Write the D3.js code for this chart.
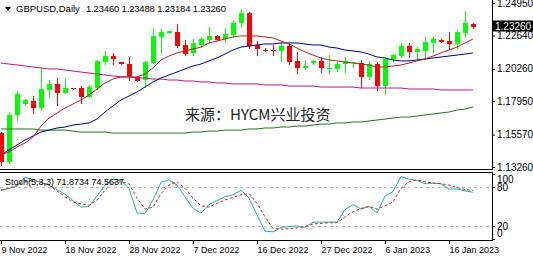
<!DOCTYPE html>
<meta charset="utf-8">
<style>
body { margin: 0; background: #fff; }
svg { display: block; font-family: "Liberation Sans", Arial, sans-serif; }
.axis path.domain { display: none; }
.axis line { stroke: #000; }
.axis text { fill: #000; }
</style>
<body>
<svg width="533" height="256"></svg>
<script src="https://d3js.org/d3.v7.min.js"></script>
<script>

// one bar every 8px (broker has short sunday bars), 9 Nov 2022 .. 19 Jan 2023
var tickBars = [0, 8, 16, 24, 32, 40, 48, 56];
var tickLabels = ["9 Nov 2022", "18 Nov 2022", "28 Nov 2022", "7 Dec 2022",
                  "16 Dec 2022", "27 Dec 2022", "6 Jan 2023", "16 Jan 2023"];

var open  = [1.1568,1.1362,1.1697,1.1775,1.1796,1.1747,1.1875,1.1918,1.1853,1.1889,
             1.1889,1.1825,1.1889,1.2074,1.2117,1.2074,1.2060,1.1968,1.1946,1.2067,
             1.2253,1.2281,1.2288,1.2196,1.2139,1.2196,1.2231,1.2260,1.2238,1.2267,
             1.2352,1.2424,1.2196,1.2163,1.2163,1.2153,1.2188,1.2082,1.2032,1.2067,
             1.2082,1.2025,1.2025,1.2060,1.2064,1.2067,1.1968,1.2060,1.1903,1.2096,
             1.2117,1.2188,1.2146,1.2153,1.2210,1.2231,1.2224,1.2203,1.2281,1.2346];
var high  = [1.1575,1.1718,1.1868,1.1811,1.1832,1.2032,1.1946,1.1960,1.1953,1.1892,
             1.1903,1.1911,1.2089,1.2153,1.2139,1.2074,1.2110,1.1975,1.2082,1.2317,
             1.2310,1.2295,1.2345,1.2231,1.2238,1.2253,1.2324,1.2267,1.2317,1.2374,
             1.2452,1.2431,1.2224,1.2174,1.2196,1.2217,1.2210,1.2146,1.2089,1.2089,
             1.2110,1.2124,1.2074,1.2110,1.2074,1.2089,1.2082,1.2074,1.2110,1.2131,
             1.2210,1.2210,1.2181,1.2253,1.2253,1.2238,1.2288,1.2303,1.2438,1.2349];
var low   = [1.1340,1.1355,1.1661,1.1768,1.1711,1.1733,1.1825,1.1768,1.1853,1.1882,
             1.1782,1.1825,1.1882,1.2060,1.2060,1.2060,1.1946,1.1939,1.1896,1.2067,
             1.2139,1.2281,1.2181,1.2124,1.2124,1.2181,1.2217,1.2231,1.2217,1.2253,
             1.2324,1.2174,1.2124,1.2153,1.2124,1.2082,1.2060,1.1996,1.2025,1.2060,
             1.2003,1.1996,1.2010,1.2003,1.2039,1.1896,1.1953,1.1875,1.1846,1.2082,
             1.2110,1.2110,1.2096,1.2096,1.2146,1.2217,1.2167,1.2174,1.2253,1.2318];
var close = [1.1362,1.1697,1.1846,1.1804,1.1747,1.1882,1.1918,1.1853,1.1889,1.1884,
             1.1825,1.1896,1.2082,1.2117,1.2096,1.2060,1.1968,1.1939,1.2074,1.2260,
             1.2288,1.2295,1.2188,1.2131,1.2210,1.2238,1.2260,1.2231,1.2274,1.2352,
             1.2424,1.2188,1.2167,1.2160,1.2156,1.2188,1.2074,1.2032,1.2046,1.2082,
             1.2032,1.2032,1.2060,1.2082,1.2071,1.1968,1.2060,1.1903,1.2096,1.2124,
             1.2188,1.2146,1.2167,1.2217,1.2238,1.2217,1.2203,1.2288,1.2352,1.2326];

// moving averages
var maRed   = [1.1412,1.1433,1.1469,1.1497,1.1540,1.1618,1.1675,1.1711,1.1747,1.1775,
               1.1804,1.1839,1.1882,1.1925,1.1953,1.1968,1.1968,1.1968,1.1989,1.2032,
               1.2089,1.2117,1.2139,1.2153,1.2167,1.2181,1.2210,1.2224,1.2238,1.2253,
               1.2260,1.2260,1.2260,1.2253,1.2246,1.2224,1.2203,1.2174,1.2146,1.2124,
               1.2103,1.2089,1.2082,1.2074,1.2067,1.2060,1.2053,1.2039,1.2039,1.2046,
               1.2053,1.2067,1.2082,1.2096,1.2117,1.2139,1.2160,1.2181,1.2210,1.2238];
var maBlue  = [1.1412,1.1447,1.1483,1.1518,1.1547,1.1575,1.1589,1.1604,1.1611,1.1625,
               1.1632,1.1640,1.1668,1.1718,1.1761,1.1804,1.1832,1.1861,1.1896,1.1932,
               1.1960,1.1982,1.2003,1.2025,1.2046,1.2060,1.2082,1.2103,1.2131,1.2160,
               1.2181,1.2188,1.2196,1.2203,1.2203,1.2210,1.2210,1.2210,1.2203,1.2196,
               1.2196,1.2181,1.2174,1.2160,1.2153,1.2146,1.2131,1.2110,1.2103,1.2089,
               1.2082,1.2082,1.2089,1.2096,1.2103,1.2110,1.2117,1.2124,1.2131,1.2139];
var maPink  = [1.2067,1.2060,1.2053,1.2046,1.2039,1.2032,1.2025,1.2025,1.2017,1.2010,
               1.2003,1.1996,1.1989,1.1982,1.1975,1.1968,1.1968,1.1960,1.1960,1.1953,
               1.1953,1.1946,1.1946,1.1939,1.1939,1.1932,1.1932,1.1925,1.1925,1.1918,
               1.1918,1.1918,1.1918,1.1911,1.1911,1.1911,1.1903,1.1903,1.1903,1.1903,
               1.1896,1.1896,1.1896,1.1896,1.1896,1.1889,1.1889,1.1889,1.1889,1.1889,
               1.1889,1.1882,1.1882,1.1882,1.1882,1.1875,1.1875,1.1875,1.1875,1.1875];
var maGreen = [1.1597,1.1597,1.1597,1.1597,1.1597,1.1589,1.1589,1.1589,1.1589,1.1582,
               1.1575,1.1575,1.1575,1.1575,1.1568,1.1568,1.1568,1.1568,1.1568,1.1568,
               1.1568,1.1568,1.1568,1.1568,1.1575,1.1575,1.1582,1.1582,1.1589,1.1589,
               1.1589,1.1597,1.1597,1.1604,1.1604,1.1611,1.1611,1.1618,1.1618,1.1625,
               1.1632,1.1632,1.1640,1.1640,1.1647,1.1647,1.1654,1.1661,1.1668,1.1675,
               1.1682,1.1682,1.1690,1.1697,1.1704,1.1711,1.1718,1.1732,1.1739,1.1754];

// stochastic (5,3,3)
var stochMain   = [75,78,81,95,91,87,83,76,69,59,49,50,66,83,92,90,78,40,39,60,
                   87,91,83,65,47,40,53,59,65,68,75,63,37,12,11,18,19,20,18,26,
                   26,26,26,45,53,46,50,40,66,73,96,92,90,85,86,85,77,77,74,71.87];
var stochSignal = [75,78,83,88,91,87,83,74,65,57,54,52,60,75,87,88,85,63,46,49,
                   70,83,88,78,63,51,49,55,60,64,68,70,55,34,16,15,16,17,19,23,
                   24,25,25,34,42,47,50,46,51,57,78,88,91,88,86,85,83,79,76,74.56];
var stochLevels = [20, 80];
var stochTicks = [100, 80, 20, 0];
var priceTicks = [1.2495, 1.2264, 1.2026, 1.1795, 1.1557, 1.1326];

var svg = d3.select("svg");
var plotRight = 492;

var x = d3.scaleLinear().domain([0, 59]).range([1, 473]);
var y = d3.scaleLinear().domain([1.1326, 1.2495]).range([167, 3]);
var ys = d3.scaleLinear().domain([0, 100]).range([239, 174]);

svg.append("rect").attr("width", 533).attr("height", 256).attr("fill", "#fff");

// candles
var bars = d3.range(open.length);
var cg = svg.append("g");
bars.forEach(function(i) {
  var up = close[i] >= open[i];
  var col = up ? "#00ff00" : "#ff0000";
  var cx = Math.round(x(i));
  cg.append("line")
    .attr("x1", cx + 0.5).attr("x2", cx + 0.5)
    .attr("y1", Math.round(y(high[i]))).attr("y2", Math.round(y(low[i])) + 1)
    .attr("stroke", col);
  var top = Math.round(y(Math.max(open[i], close[i])));
  var bot = Math.round(y(Math.min(open[i], close[i])));
  cg.append("rect")
    .attr("x", cx - 2).attr("width", 5)
    .attr("y", top).attr("height", Math.max(1, bot - top))
    .attr("fill", col);
});

// moving averages on top of candles
var line = d3.line().x(function(d, i) { return x(i); }).y(function(d) { return y(d); });
[[maGreen, "#1a7a1a"], [maPink, "#c71585"], [maBlue, "#00008b"], [maRed, "#b22222"]].forEach(function(m) {
  svg.append("path").datum(m[0]).attr("d", line)
    .attr("fill", "none").attr("stroke", m[1]).attr("stroke-width", 1);
});

// watermark
svg.append("text").attr("x", 185).attr("y", 120)
  .attr("font-family", "'Noto Sans CJK SC', sans-serif").attr("font-size", 15)
  .attr("fill", "#222").text("来源：HYCM兴业投资");

// header
svg.append("path").attr("d", "M5,7L11,7L8,11Z").attr("fill", "#000");
svg.append("text").attr("x", 16).attr("y", 12).attr("font-size", 9.5)
  .text("GBPUSD,Daily");
svg.append("text").attr("x", 86).attr("y", 12).attr("font-size", 9.5)
  .attr("textLength", 140).text("1.23460 1.23488 1.23184 1.23260");

// panel frames
svg.append("line").attr("x1", 0).attr("x2", plotRight).attr("y1", 169.5).attr("y2", 169.5).attr("stroke", "#000");
svg.append("line").attr("x1", plotRight + 0.5).attr("x2", plotRight + 0.5).attr("y1", 0).attr("y2", 170).attr("stroke", "#000");
svg.append("rect").attr("x", -1).attr("y", 172.5).attr("width", plotRight + 1.5).attr("height", 68)
  .attr("fill", "none").attr("stroke", "#000");

// price axis
svg.append("g").attr("class", "axis")
  .attr("transform", "translate(" + plotRight + ",0)")
  .call(d3.axisRight(y).tickValues(priceTicks).tickSize(3).tickPadding(2)
    .tickFormat(d3.format(".5f")))
  .selectAll("text").attr("font-size", 10).attr("font-family", null);

// current price tag
svg.append("rect").attr("x", 493).attr("y", 20.5).attr("width", 40).attr("height", 11).attr("fill", "#000");
svg.append("text").attr("x", 495).attr("y", 29.5).attr("font-size", 10).attr("fill", "#fff")
  .text(d3.format(".5f")(close[close.length - 1]));

// stochastic panel
svg.selectAll(".lvl").data(stochLevels).enter().append("line")
  .attr("x1", 0).attr("x2", plotRight)
  .attr("y1", function(d) { return Math.round(ys(d)) + 0.5; })
  .attr("y2", function(d) { return Math.round(ys(d)) + 0.5; })
  .attr("stroke", "#c0c0c0").attr("stroke-dasharray", "3,3");

var sline = d3.line().x(function(d, i) { return x(i); }).y(function(d) { return ys(d); });
svg.append("path").datum(stochMain).attr("d", sline)
  .attr("fill", "none").attr("stroke", "#20b2aa").attr("stroke-width", 1);
svg.append("path").datum(stochSignal).attr("d", sline)
  .attr("fill", "none").attr("stroke", "#c0302a").attr("stroke-width", 1).attr("stroke-dasharray", "3,2");

svg.append("text").attr("x", 5).attr("y", 185).attr("font-size", 9)
  .text("Stoch(5,3,3) " + d3.format(".4f")(71.8734) + " " + d3.format(".4f")(74.5637));

var sa = svg.append("g").attr("class", "axis")
  .attr("transform", "translate(" + plotRight + ",0)")
  .call(d3.axisRight(ys).tickValues(stochTicks).tickSize(3).tickPadding(2));
sa.selectAll("text").attr("font-size", 10).attr("font-family", null)
  .attr("y", function(d) { return Math.min(Math.max(ys(d), 179), 233) - ys(d); });

// time axis
svg.append("g").attr("class", "axis")
  .attr("transform", "translate(0,240)")
  .call(d3.axisBottom(x).tickValues(tickBars).tickSize(4).tickPadding(3)
    .tickFormat(function(d, i) { return tickLabels[i]; }))
  .selectAll("text").attr("font-size", 9).attr("font-family", null)
  .attr("text-anchor", "start").attr("dx", 0);

</script>
